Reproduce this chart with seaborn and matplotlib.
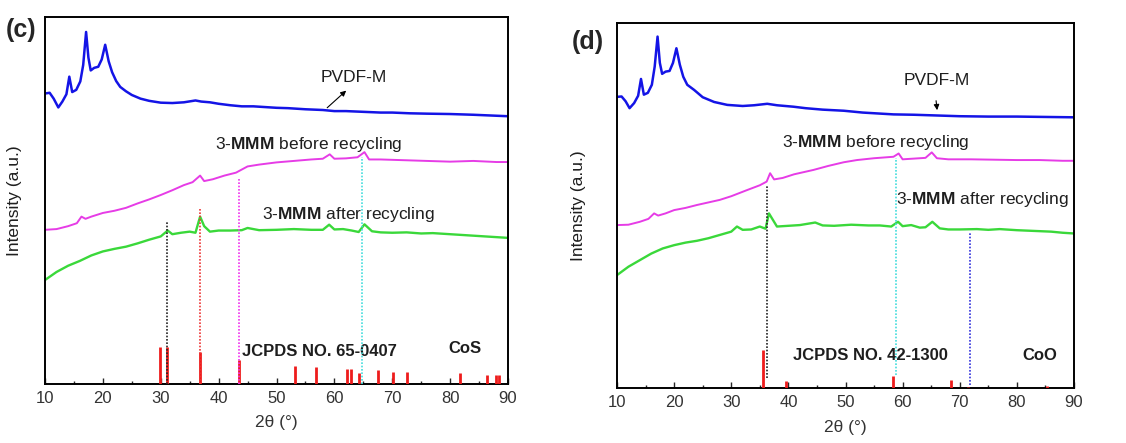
import numpy as np
import pandas as pd
import matplotlib
matplotlib.use("Agg")
import matplotlib.pyplot as plt
from matplotlib.ticker import MultipleLocator
import seaborn as sns

# ---------------- data: panel (c) ----------------
c_blue_x = [10, 10.8, 11.5, 12.3, 13.0, 13.7, 14.2, 14.7, 15.4, 16.1, 16.6, 17.1, 17.5, 17.9, 18.5, 19.2,
            19.8, 20.4, 21.0, 21.6, 22.3, 23.0, 24.0, 25.0, 26.5, 28.0, 30.0, 32.0, 34.0, 36.0, 37.0, 38.5,
            40.0, 42.0, 44.0, 46.0, 48.0, 50.0, 52.0, 55.0, 58.0, 60.0, 62.0, 65.0, 68.0, 70.0, 73.0, 76.0,
            80.0, 84.0, 87.0, 90.0]
c_blue_y = [79.2, 79.4, 77.8, 75.4, 77.0, 79.0, 83.8, 79.6, 80.2, 82.5, 87.0, 96.0, 89.0, 85.5, 86.2, 86.5,
            88.5, 92.5, 88.0, 85.0, 82.6, 81.0, 79.8, 78.8, 77.8, 77.2, 76.7, 76.6, 76.8, 77.3, 77.0, 76.8,
            76.4, 76.0, 75.7, 75.7, 75.5, 75.3, 75.2, 74.9, 74.7, 74.4, 74.4, 74.2, 74.0, 74.0, 73.8, 73.7,
            73.6, 73.4, 73.2, 73.0]

c_mag_x = [10, 12, 14, 15.5, 16.3, 17, 18, 20, 22, 24, 26, 28, 30, 32, 34, 35.5, 36.8, 37.5, 39, 41, 43,
           45, 47, 50, 53, 56, 58, 59.2, 60, 62, 64, 65.2, 66, 68, 72, 76, 80, 84, 88, 90]
c_mag_y = [42.0, 42.2, 43.0, 43.8, 45.6, 45.0, 45.6, 46.6, 47.2, 48.0, 49.2, 50.3, 51.5, 52.8, 54.2, 55.0,
           56.8, 55.3, 55.8, 56.8, 57.6, 59.3, 59.8, 60.4, 60.8, 61.2, 61.4, 62.6, 61.4, 61.5, 61.8, 63.2,
           61.2, 61.2, 61.0, 60.8, 60.6, 60.8, 60.5, 60.5]

c_grn_x = [10, 12, 14, 16, 18, 20, 22, 24, 26, 28, 30, 31.2, 32, 33.5, 35, 36, 36.8, 37.5, 38.5, 40, 42,
           44, 45, 47, 50, 53, 56, 58, 59.1, 60, 61.5, 63, 64.2, 65.2, 66.5, 68, 70, 72.5, 75, 77, 80, 83,
           86, 88, 90]
c_grn_y = [28.3, 30.5, 32.2, 33.5, 35.0, 36.1, 36.8, 37.4, 38.3, 39.3, 40.2, 41.8, 40.8, 41.2, 41.5, 41.2,
           45.6, 43.0, 41.5, 41.8, 41.8, 41.9, 42.5, 41.9, 42.0, 42.2, 42.0, 42.0, 43.4, 42.1, 42.2, 41.8,
           41.4, 43.5, 41.6, 41.3, 41.2, 41.3, 41.0, 41.1, 40.8, 40.5, 40.2, 40.0, 39.8]

c_ref_pos = [29.9, 31.0, 36.8, 43.6, 53.2, 56.8, 62.2, 62.8, 64.3, 67.6, 70.2, 72.6, 81.7, 86.4, 88.0, 88.4]
c_ref_int = [10.1, 10.0, 8.7, 6.5, 4.9, 4.6, 3.9, 3.9, 3.0, 3.7, 3.3, 3.3, 2.8, 2.5, 2.5, 2.5]

c_guide_pos = [31.1, 36.8, 43.6, 64.8]
c_guide_top = [44.3, 48.0, 56.2, 62.0]
c_guide_col = ["#222222", "#ee3333", "#ee33ee", "#44dddd"]

# ---------------- data: panel (d) ----------------
d_blue_x = [10, 10.8, 11.5, 12.2, 13.0, 13.7, 14.2, 14.7, 15.4, 16.1, 16.6, 17.1, 17.5, 17.9, 18.5, 19.2,
            19.8, 20.4, 21.0, 21.6, 22.3, 23.5, 25, 27, 29.3, 32, 34, 36.3, 38, 40.9, 43, 46, 49.7, 53,
            58.4, 62, 66, 70, 75, 80, 85, 90]
d_blue_y = [79.7, 79.8, 78.5, 76.6, 78.0, 80.0, 84.6, 80.3, 80.8, 83.0, 88.0, 96.2, 89.0, 86.0, 86.6, 86.8,
            89.0, 93.0, 88.5, 85.2, 83.0, 81.6, 79.6, 78.3, 77.5, 77.2, 77.4, 77.8, 77.4, 77.0, 76.6, 76.2,
            75.9, 75.4, 74.9, 74.8, 74.6, 74.4, 74.3, 74.3, 74.2, 74.1]

d_mag_x = [10, 12, 14, 15.5, 16.5, 17.2, 18.5, 20, 22, 24, 26, 28, 30, 32.8, 35, 36.2, 36.8, 37.5, 39, 41,
           44.4, 47, 49.7, 52, 55, 58.4, 59.3, 60, 62, 64, 65.1, 66, 68, 72, 76, 80, 84, 88, 90]
d_mag_y = [44.6, 44.7, 45.5, 46.3, 47.8, 47.2, 47.8, 48.7, 49.3, 50.1, 50.8, 51.5, 52.5, 54.2, 55.5, 56.5,
           58.8, 57.1, 57.5, 58.5, 59.7, 60.8, 61.8, 62.4, 62.9, 63.3, 64.2, 62.6, 62.8, 63.0, 64.5, 62.9,
           62.6, 62.6, 62.5, 62.4, 62.4, 62.2, 62.2]

d_grn_x = [10, 12, 14, 16, 18, 20, 22, 24, 26, 28, 30, 31, 32, 33.5, 35, 36, 36.6, 37.3, 38, 40, 42, 44.7,
           46, 48, 51, 54, 56, 58, 59.2, 60, 61.5, 63, 64, 65.2, 66.5, 68, 70, 73, 75, 77, 80, 83, 86, 88, 90]
d_grn_y = [30.9, 33.2, 35.0, 36.8, 38.2, 39.1, 39.8, 40.3, 41.0, 41.9, 42.8, 44.2, 43.3, 43.4, 44.2, 43.6,
           47.8, 46.0, 44.2, 44.4, 44.6, 45.3, 44.5, 44.4, 44.7, 44.5, 44.5, 44.2, 45.5, 44.3, 44.6, 43.9,
           44.0, 45.5, 43.7, 43.4, 43.4, 43.5, 43.3, 43.5, 43.2, 43.0, 42.8, 42.5, 42.3]

d_ref_pos = [35.5, 39.6, 58.4, 68.4, 71.5, 85.2]
d_ref_int = [10.4, 1.9, 3.4, 2.1, 0.4, 0.6]

d_guide_pos = [36.3, 58.9, 71.8]
d_guide_bot = [2.7, 3.6, 0.8]
d_guide_top = [55.6, 62.9, 42.8]
d_guide_col = ["#222222", "#44dddd", "#3333dd"]

x_ticks = [10, 20, 30, 40, 50, 60, 70, 80, 90]

# ---------------- style ----------------
sns.set_style("white")
plt.rcParams["font.family"] = ["Liberation Sans", "DejaVu Sans"]
plt.rcParams["mathtext.fontset"] = "custom"
plt.rcParams["mathtext.rm"] = "Liberation Sans"
plt.rcParams["mathtext.bf"] = "Liberation Sans:bold"

BLUE = "#1414e6"
MAG = "#e63ce6"
GRN = "#3ad83a"
RED = "#ee1c1c"
TXT = "#1e1e1e"

fig = plt.figure(figsize=(11.26, 4.43), dpi=100)
ax_c = fig.add_axes([45 / 1126, 1 - 383.7 / 443, 463 / 1126, 366.4 / 443])
ax_d = fig.add_axes([617 / 1126, 1 - 388 / 443, 457 / 1126, 365.3 / 443])


def draw_panel(ax, blue, mag, grn, refs, guides, texts, arrow, jcpds, phase):
    for (xs, ys), col, lw in [(blue, BLUE, 1.8), (mag, MAG, 1.4), (grn, GRN, 1.7)]:
        df = pd.DataFrame({"x": xs, "y": ys})
        sns.lineplot(data=df, x="x", y="y", ax=ax, color=col, linewidth=lw, legend=False)
    pos, inten = refs
    ax.vlines(pos, 0, inten, colors=RED, linewidth=2.0, zorder=3)
    for gx, gb, gt, gc in guides:
        ax.vlines(gx, gb, gt, colors=gc, linewidth=1.2, linestyles=(0, (1, 1)), zorder=4)
    ax.set_xlim(10, 90)
    ax.set_ylim(0, 100)
    ax.set_xticks(x_ticks)
    ax.xaxis.set_minor_locator(MultipleLocator(5))
    ax.set_yticks([])
    ax.tick_params(axis="x", which="major", direction="in", length=4, width=1.0,
                   labelsize=12, labelcolor="#333333", bottom=True, top=False, pad=5)
    ax.tick_params(axis="x", which="minor", direction="in", length=2.5, width=1.0, bottom=True, top=False)
    for s in ax.spines.values():
        s.set_linewidth(1.4)
        s.set_color("black")
    ax.set_xlabel("2θ (°)", fontsize=12.5, color="#333333", labelpad=7)
    ax.set_ylabel("Intensity (a.u.)", fontsize=12.5, color=TXT, labelpad=8)
    (px, py), (bx, by), (ax_x, ax_y) = texts
    ax.text(px, py, "PVDF-M", fontsize=12.5, ha="center", va="center", color=TXT)
    ax.text(bx, by, r"3-$\mathbf{MMM}$ before recycling", fontsize=12.5, ha="center", va="center", color=TXT)
    ax.text(ax_x, ax_y, r"3-$\mathbf{MMM}$ after recycling", fontsize=12.5, ha="center", va="center", color=TXT)
    head, tail = arrow
    ax.annotate("", xy=head, xytext=tail,
                arrowprops=dict(arrowstyle="-|>", color="black", lw=0.8, mutation_scale=8))
    ax.text(jcpds[0], jcpds[1], jcpds[2], fontsize=12, fontweight="bold", ha="center", va="center", color=TXT)
    ax.text(phase[0], phase[1], phase[2], fontsize=12, fontweight="bold", ha="center", va="center", color=TXT)


draw_panel(ax_c, (c_blue_x, c_blue_y), (c_mag_x, c_mag_y), (c_grn_x, c_grn_y),
           (c_ref_pos, c_ref_int),
           list(zip(c_guide_pos, [0] * len(c_guide_pos), c_guide_top, c_guide_col)),
           ((63.3, 83.6), (55.5, 65.2), (62.5, 46.3)),
           ((62.4, 80.5), (58.4, 74.8)),
           (57.5, 8.7, "JCPDS NO. 65-0407"), (82.5, 9.6, "CoS"))

draw_panel(ax_d, (d_blue_x, d_blue_y), (d_mag_x, d_mag_y), (d_grn_x, d_grn_y),
           (d_ref_pos, d_ref_int),
           list(zip(d_guide_pos, d_guide_bot, d_guide_top, d_guide_col)),
           ((66.0, 84.2), (55.2, 67.2), (74.0, 51.7)),
           ((66.1, 75.3), (65.8, 79.4)),
           (54.3, 9.0, "JCPDS NO. 42-1300"), (84.0, 9.0, "CoO"))

ax_c.yaxis.set_label_coords(-0.05, 0.5)
ax_d.yaxis.set_label_coords(-0.068, 0.5)

fig.text(21 / 1126, 1 - 30 / 443, "(c)", fontsize=18, fontweight="bold", ha="center", va="center")
fig.text(588 / 1126, 1 - 42 / 443, "(d)", fontsize=18, fontweight="bold", ha="center", va="center")

fig.savefig("out.png", dpi=100)
